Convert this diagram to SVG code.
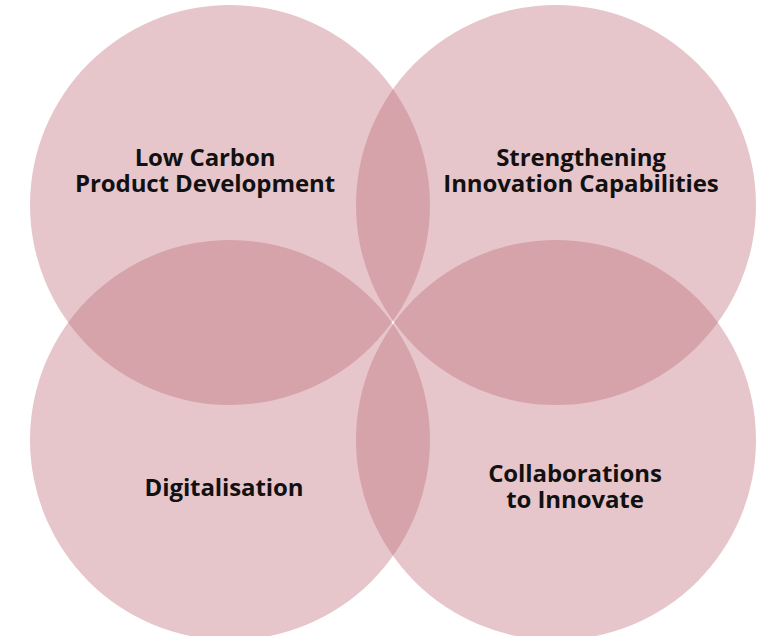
<svg xmlns="http://www.w3.org/2000/svg" width="770" height="636" viewBox="0 0 770 636">
<style>
.c{fill:#e7c6cb}
.o{fill:#d6a3ab}
.t{font-family:"Open Sans","Noto Sans",sans-serif;font-weight:700;font-size:24px;letter-spacing:-0.1px;fill:#111;text-anchor:middle}
</style>
<defs>
<clipPath id="cTL"><circle cx="230" cy="205" r="200"/></clipPath>
<clipPath id="cBR"><circle cx="556" cy="440" r="200"/></clipPath>
</defs>
<rect width="770" height="636" fill="#fff"/>
<g id="tl"><circle class="c" cx="230" cy="205" r="200"/></g>
<g id="tr"><circle class="c" cx="556" cy="205" r="200"/></g>
<g id="bl"><circle class="c" cx="230" cy="440" r="200"/></g>
<g id="br"><circle class="c" cx="556" cy="440" r="200"/></g>
<g id="overlaps">
<circle class="o" cx="556" cy="205" r="200" clip-path="url(#cTL)"/>
<circle class="o" cx="230" cy="440" r="200" clip-path="url(#cTL)"/>
<circle class="o" cx="556" cy="205" r="200" clip-path="url(#cBR)"/>
<circle class="o" cx="230" cy="440" r="200" clip-path="url(#cBR)"/>
</g>
<g id="labels">
<text class="t"><tspan x="205" y="166">Low Carbon</tspan><tspan x="205" y="192">Product Development</tspan></text>
<text class="t"><tspan x="581" y="166">Strengthening</tspan><tspan x="581" y="192">Innovation Capabilities</tspan></text>
<text class="t" x="224" y="496">Digitalisation</text>
<text class="t"><tspan x="575" y="482">Collaborations</tspan><tspan x="575" y="508">to Innovate</tspan></text>
</g>
</svg>
